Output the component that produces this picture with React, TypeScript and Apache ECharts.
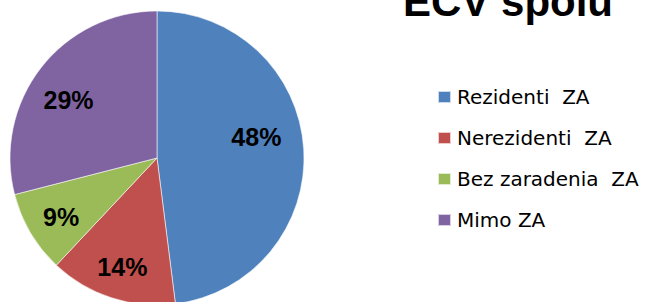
import React, { useEffect, useRef } from "react";
import * as echarts from "echarts";

const categories = ["Rezidenti  ZA", "Nerezidenti  ZA", "Bez zaradenia  ZA", "Mimo ZA"];
const values = [48, 14, 9, 29];
const colors = ["#4F81BD", "#C0504D", "#9BBB59", "#8064A2"];
const titleText = "ECV spolu";
// label nudges (px) relative to the default inside position
const labelNudge: [number, number][] = [
  [23, -16],
  [-11, 36],
  [-30, 20],
  [-28, -11],
];

export default function App() {
  const ref = useRef<HTMLDivElement>(null);
  useEffect(() => {
    document.body.style.margin = "0";
    const chart = echarts.init(ref.current!, undefined, { renderer: "svg" });
    chart.setOption({
      animation: false,
      backgroundColor: "#ffffff",
      color: colors,
      title: {
        text: titleText,
        left: 403,
        top: -20,
        padding: 0,
        textStyle: {
          fontFamily: "Liberation Sans",
          fontWeight: "bold",
          fontSize: 42,
          color: "#000",
        },
      },
      legend: {
        orient: "vertical",
        left: 437,
        top: 87,
        padding: 0,
        itemWidth: 13,
        itemHeight: 12,
        itemGap: 21,
        icon: "rect",
        textStyle: {
          fontFamily: "DejaVu Sans",
          fontSize: 20,
          color: "#000",
          padding: [0, 0, 0, 1],
        },
        data: categories,
      },
      series: [
        {
          type: "pie",
          center: [157, 158],
          radius: 147,
          startAngle: 90,
          clockwise: true,
          avoidLabelOverlap: false,
          itemStyle: { borderColor: "rgba(255,255,255,0.7)", borderWidth: 0.8 },
          label: {
            show: true,
            position: "inside",
            formatter: "{c}%",
            fontFamily: "Liberation Sans",
            fontWeight: "bold",
            fontSize: 25,
            color: "#000",
          },
          labelLine: { show: false },
          labelLayout: (p: any) => ({
            dx: labelNudge[p.dataIndex][0],
            dy: labelNudge[p.dataIndex][1],
          }),
          emphasis: { disabled: true },
          data: categories.map((name, i) => ({ name, value: values[i] })),
        },
      ],
    });
    return () => chart.dispose();
  }, []);
  return <div ref={ref} style={{ width: 653, height: 302 }} />;
}
